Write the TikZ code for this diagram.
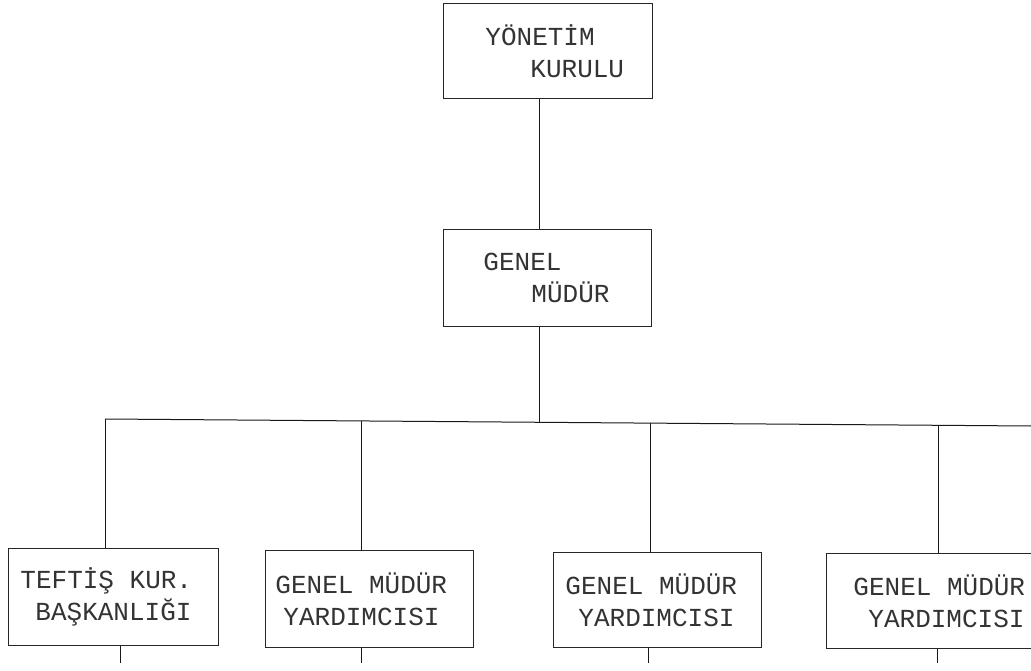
\documentclass[tikz,border=0pt]{standalone}
\usepackage{fontspec}
\setmonofont{Liberation Mono}
\usepackage{tikz}
\newcommand{\gap}{\hspace*{0.6em}}

\begin{document}
\begin{tikzpicture}[x=1pt,y=-1pt,
	orgbox/.style={draw=black!85, line width=0.9pt, anchor=north west,
		inner xsep=1pt, inner ysep=0pt, align=left,
		font=\ttfamily\fontsize{26}{32}\selectfont, text=black!80},
	link/.style={draw=black!90, line width=1pt}]
	\clip (0,0) rectangle (1031,671);

	% top of the chart
	\node[orgbox, minimum width=209, minimum height=95, text width=207] (yk) at (443,3)
		{\hspace*{41pt}YÖNETİM\\\hspace*{86pt}KURULU};
	\node[orgbox, minimum width=208, minimum height=97, text width=206] (gm) at (443,229)
		{\hspace*{39pt}GENEL\\\hspace*{87pt}MÜDÜR};

	% bottom row
	\node[orgbox, minimum width=210, minimum height=97, text width=208] (tk) at (8,548)
		{\hspace*{11pt}TEFTİŞ\gap KUR.\\\hspace*{26pt}BAŞKANLIĞI};
	\node[orgbox, minimum width=208, minimum height=97, text width=206] (gy1) at (265,550)
		{\hspace*{9pt}GENEL\gap MÜDÜR\\\hspace*{17pt}YARDIMCISI};
	\node[orgbox, minimum width=208, minimum height=95, text width=206] (gy2) at (553,552)
		{\hspace*{11pt}GENEL\gap MÜDÜR\\\hspace*{24pt}YARDIMCISI};
	\node[orgbox, minimum width=208, minimum height=95, text width=206] (gy3) at (826,553)
		{\hspace*{26pt}GENEL\gap MÜDÜR\\\hspace*{41pt}YARDIMCISI};

	% bus line
	\coordinate (trunk) at (539,422);
	\coordinate (b1) at (105,419);
	\coordinate (b2) at (361,421);
	\coordinate (b3) at (650,423);
	\coordinate (b4) at (938,425);
	\coordinate (busend) at (1031,426);
	\coordinate (s1) at (120,663);
	\coordinate (s2) at (361,663);
	\coordinate (s3) at (648,663);
	\coordinate (s4) at (937,663);

	\draw[link] (yk.south -| trunk) -- (gm.north -| trunk);
	\draw[link] (gm.south -| trunk) -- (trunk);
	\draw[link] (b1) -- (busend);
	\draw[link] (b1) -- (tk.north -| b1);
	\draw[link] (b2) -- (gy1.north -| b2);
	\draw[link] (b3) -- (gy2.north -| b3);
	\draw[link] (b4) -- (gy3.north -| b4);

	% stubs going on below
	\draw[link] (tk.south -| s1) -- (s1);
	\draw[link] (gy1.south -| s2) -- (s2);
	\draw[link] (gy2.south -| s3) -- (s3);
	\draw[link] (gy3.south -| s4) -- (s4);
\end{tikzpicture}
\end{document}
